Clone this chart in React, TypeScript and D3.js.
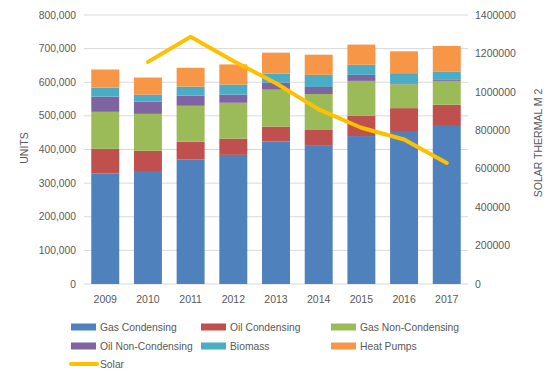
import React from "react";
import * as d3 from "d3";

const years = ["2009", "2010", "2011", "2012", "2013", "2014", "2015", "2016", "2017"];
const gasCondensing = [329000, 336000, 370000, 384000, 424000, 413000, 440000, 455000, 470000];
const oilCondensing = [73000, 60000, 53000, 48000, 44000, 45000, 60000, 68000, 63000];
const gasNonCondensing = [110000, 110000, 107000, 107000, 110000, 107000, 104000, 71000, 71000];
const oilNonCondensing = [45000, 36000, 30000, 24000, 21000, 21000, 18000, 3000, 3000];
const biomass = [27000, 21000, 27000, 30000, 27000, 36000, 30000, 30000, 24000];
const heatPumps = [54000, 51000, 56000, 60000, 62000, 60000, 60000, 65000, 77000];
const solar: (number | null)[] = [null, 1156000, 1287000, 1161000, 1045000, 909000, 813000, 752000, 630000];

const seriesNames = ["Gas Condensing", "Oil Condensing", "Gas Non-Condensing", "Oil Non-Condensing", "Biomass", "Heat Pumps"];
const seriesData = [gasCondensing, oilCondensing, gasNonCondensing, oilNonCondensing, biomass, heatPumps];
const colors = ["#4F81BD", "#C0504D", "#9BBB59", "#8064A2", "#4BACC6", "#F79646"];
const solarColor = "#FFC000";
const leftTicks = [0, 100000, 200000, 300000, 400000, 500000, 600000, 700000, 800000];
const rightTicks = [0, 200000, 400000, 600000, 800000, 1000000, 1200000, 1400000];

const W = 554, H = 384;
const plotL = 84, plotR = 468, plotT = 15, plotB = 284;
const font = "'Liberation Sans', Arial, sans-serif";
const textColor = "#595959";

export default function App() {
  const x = d3.scaleBand<string>().domain(years).range([plotL, plotR]).paddingInner(0.345).paddingOuter(0.17);
  const y = d3.scaleLinear().domain([0, 800000]).range([plotB, plotT]);
  const y2 = d3.scaleLinear().domain([0, 1400000]).range([plotB, plotT]);

  const table = years.map((yr, i) => {
    const row: any = { year: yr };
    seriesNames.forEach((n, k) => (row[n] = seriesData[k][i]));
    return row;
  });
  const stacked = d3.stack().keys(seriesNames)(table);

  const line = d3
    .line<number | null>()
    .defined((d) => d != null)
    .x((_, i) => (x(years[i]) as number) + x.bandwidth() / 2)
    .y((d) => y2(d as number));

  const legendItems = [
    ...seriesNames.map((n, k) => ({ name: n, color: colors[k], line: false })),
    { name: "Solar", color: solarColor, line: true },
  ];
  const colX = [71, 201, 331];
  const rowY = [327, 346, 364];

  return (
    <svg width={W} height={H} style={{ position: "absolute", left: 0, top: 0, background: "#fff" }} fontFamily={font}>
      {leftTicks.map((t) => (
        <line key={"g" + t} x1={plotL} x2={plotR} y1={y(t)} y2={y(t)} stroke="#D9D9D9" strokeWidth={1} />
      ))}
      {leftTicks.map((t) => (
        <text key={"l" + t} x={76} y={y(t)} dy="0.35em" textAnchor="end" fontSize={10.3} fill={textColor}>
          {d3.format(",")(t)}
        </text>
      ))}
      {rightTicks.map((t) => (
        <text key={"r" + t} x={475} y={y2(t)} dy="0.35em" textAnchor="start" fontSize={10.5} fill={textColor}>
          {String(t)}
        </text>
      ))}
      {stacked.map((s, k) =>
        s.map((d, i) => (
          <rect
            key={k + "-" + i}
            x={x(years[i])}
            width={x.bandwidth()}
            y={y(d[1])}
            height={y(d[0]) - y(d[1])}
            fill={colors[k]}
          />
        ))
      )}
      <path d={line(solar) || ""} fill="none" stroke={solarColor} strokeWidth={4} strokeLinejoin="round" strokeLinecap="round" />
      {years.map((yr) => (
        <text key={"x" + yr} x={(x(yr) as number) + x.bandwidth() / 2} y={299} dy="0.35em" textAnchor="middle" fontSize={10.5} fill={textColor}>
          {yr}
        </text>
      ))}
      <text transform={`translate(24,148) rotate(-90)`} textAnchor="middle" dy="0.35em" fontSize={10.5} fill={textColor}>
        UNITS
      </text>
      <text transform={`translate(538,143) rotate(-90)`} textAnchor="middle" dy="0.35em" fontSize={10.5} fill={textColor}>
        SOLAR THERMAL M 2
      </text>
      {legendItems.map((it, i) => {
        const cx = colX[i % 3];
        const cy = rowY[Math.floor(i / 3)];
        return (
          <g key={"lg" + i}>
            {it.line ? (
              <line x1={cx} x2={cx + 26} y1={cy} y2={cy} stroke={it.color} strokeWidth={4} strokeLinecap="round" />
            ) : (
              <rect x={cx} y={cy - 3.5} width={25} height={7} fill={it.color} />
            )}
            <text x={cx + 29} y={cy} dy="0.35em" fontSize={10.3} fill={textColor}>
              {it.name}
            </text>
          </g>
        );
      })}
    </svg>
  );
}
